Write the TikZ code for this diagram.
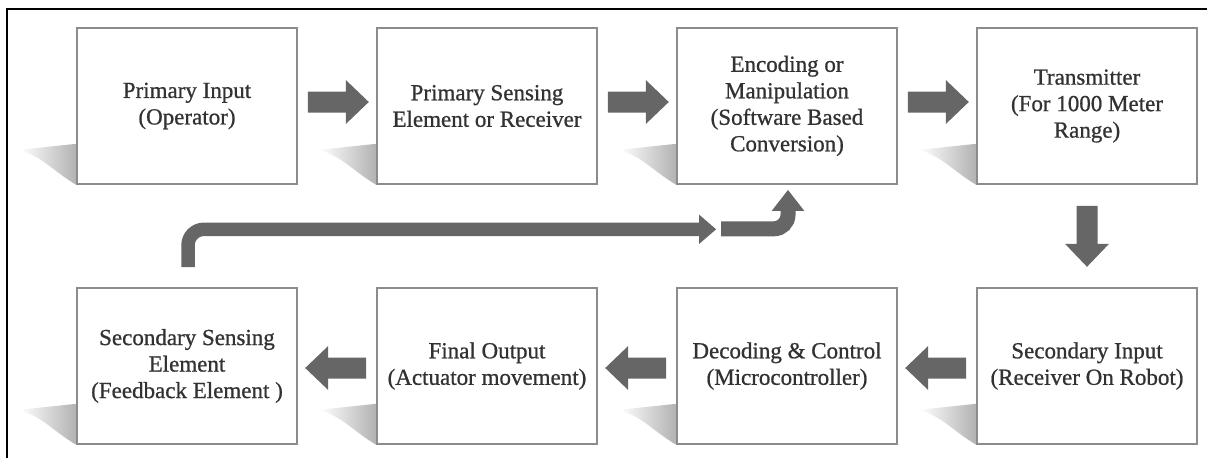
\documentclass[tikz,border=0pt]{standalone}
\usepackage{fontspec}
\setmainfont{Liberation Serif}
\newfontfamily\stagefont{Liberation Serif}[FakeBold=0.8]
\usetikzlibrary{calc,arrows.meta,backgrounds}
\definecolor{arrowgray}{RGB}{102,102,102}
\definecolor{boxline}{RGB}{140,140,140}
\definecolor{txt}{RGB}{50,50,50}
\definecolor{shadowgray}{RGB}{178,178,178}

% soft wedge-shaped shadow to the lower left of a box
\newcommand\boxshadow[1]{%
  \shade[left color=white, right color=shadowgray]
    ($(#1.south west)+(0,-41)$) -- ++(-57,6)
    .. controls +(25,8) and +(-25,-15) .. (#1.south west) -- cycle;}

\begin{document}
\begin{tikzpicture}[x=1pt,y=-1pt,
  stage/.style={draw=boxline, line width=1.6pt, fill=white,
    minimum width=220pt, minimum height=156pt, inner sep=0pt,
    align=center, text=txt, font=\stagefont\fontsize{23}{26.5}\selectfont},
  barrow/.pic={\fill[arrowgray] (0,-10.5) -- (38,-10.5) -- (38,-22) -- (61,0)
    -- (38,22) -- (38,10.5) -- (0,10.5) -- cycle;},
  feed/.style={draw=arrowgray, line width=13.5pt, rounded corners=16pt}
]
\useasboundingbox (0,0) rectangle (1207,458);

% frame
\draw[line width=2.5pt] (7,458) -- (7,9) -- (1207,9);

% forward path
\node[stage] (b1) at (187,106) {Primary Input\\(Operator)};
\node[stage] (b2) at (487,106) {Primary Sensing\\Element or Receiver};
\node[stage] (b3) at (787,106) {Encoding or\\Manipulation\\(Software Based\\Conversion)};
\node[stage] (b4) at (1087,106) {Transmitter\\(For 1000 Meter\\Range)};

% return path
\node[stage] (b5) at (1087,366) {Secondary Input\\(Receiver On Robot)};
\node[stage] (b6) at (787,366) {Decoding \& Control\\(Microcontroller)};
\node[stage] (b7) at (487,366) {Final Output\\(Actuator movement)};
\node[stage] (b8) at (187,366) {Secondary Sensing\\Element\\(Feedback Element )};

\begin{scope}[on background layer]
  \foreach \b in {b1,b2,b3,b4,b5,b6,b7,b8} {\boxshadow{\b}}
\end{scope}

% block arrows between stages
\pic at ($(b1.east)+(10,-4)$) {barrow};
\pic at ($(b2.east)+(10,-4)$) {barrow};
\pic at ($(b3.east)+(10,-4)$) {barrow};
\pic[rotate=-90] at ($(b4.south)+(0,21)$) {barrow};
\pic[rotate=180] at ($(b5.west)+(-10,2)$) {barrow};
\pic[rotate=180] at ($(b6.west)+(-10,2)$) {barrow};
\pic[rotate=180] at ($(b7.west)+(-10,2)$) {barrow};

% feedback loop
\coordinate (fbA) at ($(b8.north)+(1,-20)$);
\coordinate (fbB) at ($(b3.south west)+(40,44.5)$);
\coordinate (fbC) at ($(b3.south west)+(45,44)$);
\coordinate (fbD) at ($(b3.south)+(1,5)$);
\draw[feed, -{Triangle[length=17pt,width=28pt]}] (fbA) |- (fbB);
\draw[draw=arrowgray, line width=15pt, rounded corners=14pt,
      -{Triangle[length=21pt,width=31pt]}] (fbC) -| (fbD);
\end{tikzpicture}
\end{document}
